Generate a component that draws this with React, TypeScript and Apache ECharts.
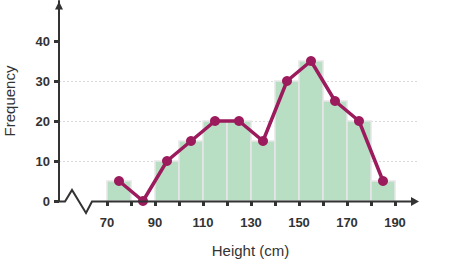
import React, { useEffect, useRef } from "react";
import * as echarts from "echarts";

const binStarts = [70, 80, 90, 100, 110, 120, 130, 140, 150, 160, 170, 180];
const binEnds = [80, 90, 100, 110, 120, 130, 140, 150, 160, 170, 180, 190];
const frequencies = [5, 0, 10, 15, 20, 20, 15, 30, 35, 25, 20, 5];
const midpoints = [75, 85, 95, 105, 115, 125, 135, 145, 155, 165, 175, 185];
const xTickValues = [70, 80, 90, 100, 110, 120, 130, 140, 150, 160, 170, 180, 190];
const xLabelValues = [70, 90, 110, 130, 150, 170, 190];
const yTickValues = [0, 10, 20, 30, 40];

const FONT = "'Liberation Sans', Arial, sans-serif";
const AXIS = "#333333";
const LINE = "#9b1b5d";

export default function App() {
  const ref = useRef<HTMLDivElement>(null);
  useEffect(() => {
    if (!ref.current) return;
    document.body.style.margin = "0";
    const chart = echarts.init(ref.current, undefined, { renderer: "svg" });
    const barData = binStarts.map((s, i) => [s, binEnds[i], frequencies[i]]);
    const lineData = midpoints.map((m, i) => [m, frequencies[i]]);
    chart.setOption({
      animation: false,
      grid: {
        left: 59,
        right: 45,
        top: 1,
        bottom: 60,
        containLabel: false,
        outerBoundsMode: "none",
      },
      xAxis: {
        type: "value",
        min: 50,
        max: 200,
        interval: 10,
        axisLine: { show: false },
        splitLine: { show: false },
        axisTick: {
          show: true,
          customValues: xTickValues,
          length: 5,
          inside: false,
          lineStyle: { color: AXIS, width: 3 },
        },
        axisLabel: {
          customValues: xLabelValues,
          margin: 15,
          fontSize: 13,
          fontWeight: "bold",
          color: AXIS,
          fontFamily: FONT,
        },
      },
      yAxis: {
        type: "value",
        min: 0,
        max: 50,
        interval: 10,
        axisLine: { show: true, lineStyle: { color: AXIS, width: 2 } },
        axisTick: {
          show: true,
          customValues: yTickValues,
          length: 5,
          lineStyle: { color: AXIS, width: 3 },
        },
        axisLabel: {
          customValues: yTickValues,
          margin: 9,
          fontSize: 13,
          fontWeight: "bold",
          color: AXIS,
          fontFamily: FONT,
        },
        splitLine: {
          show: true,
          showMinLine: false,
          showMaxLine: false,
          lineStyle: { color: "#d9d9d9", type: [2, 2], width: 1 },
        },
      },
      series: [
        {
          type: "custom",
          z: 2,
          data: barData,
          renderItem: (params: any, api: any) => {
            const x0 = api.value(0);
            const x1 = api.value(1);
            const y = api.value(2);
            const p0 = api.coord([x0, y]);
            const p1 = api.coord([x1, 0]);
            return {
              type: "rect",
              shape: { x: p0[0], y: p0[1], width: p1[0] - p0[0], height: p1[1] - p0[1] },
              style: { fill: "#b8dfc4", stroke: "#e6e6e6", lineWidth: 1.5 },
            };
          },
        },
        {
          type: "line",
          z: 5,
          data: lineData,
          symbol: "circle",
          symbolSize: 10,
          lineStyle: { color: LINE, width: 3.5 },
          itemStyle: { color: LINE },
        },
      ],
      graphic: [
        {
          type: "polyline",
          z: 100,
          shape: {
            points: [
              [59, 201.5],
              [65, 201.5],
              [72, 190],
              [86, 213],
              [92, 201.5],
              [412, 201.5],
            ],
          },
          style: { stroke: AXIS, lineWidth: 2, fill: null },
        },
        {
          type: "polygon",
          z: 100,
          shape: { points: [[411, 197], [419, 201.5], [411, 206]] },
          style: { fill: AXIS },
        },
        {
          type: "polygon",
          z: 100,
          shape: { points: [[55, 9.5], [59, 1.5], [63, 9.5]] },
          style: { fill: AXIS },
        },
        {
          type: "text",
          z: 100,
          x: 250.5,
          y: 250,
          style: {
            text: "Height (cm)",
            fontSize: 15,
            fill: AXIS,
            fontFamily: FONT,
            align: "center",
            verticalAlign: "middle",
          },
        },
        {
          type: "text",
          z: 100,
          x: 9,
          y: 101,
          rotation: Math.PI / 2,
          style: {
            text: "Frequency",
            fontSize: 15,
            fill: AXIS,
            fontFamily: FONT,
            align: "center",
            verticalAlign: "middle",
          },
        },
      ],
    });
    return () => chart.dispose();
  }, []);
  return (
    <div
      ref={ref}
      style={{ width: 464, height: 261, position: "absolute", left: 0, top: 0 }}
    />
  );
}
